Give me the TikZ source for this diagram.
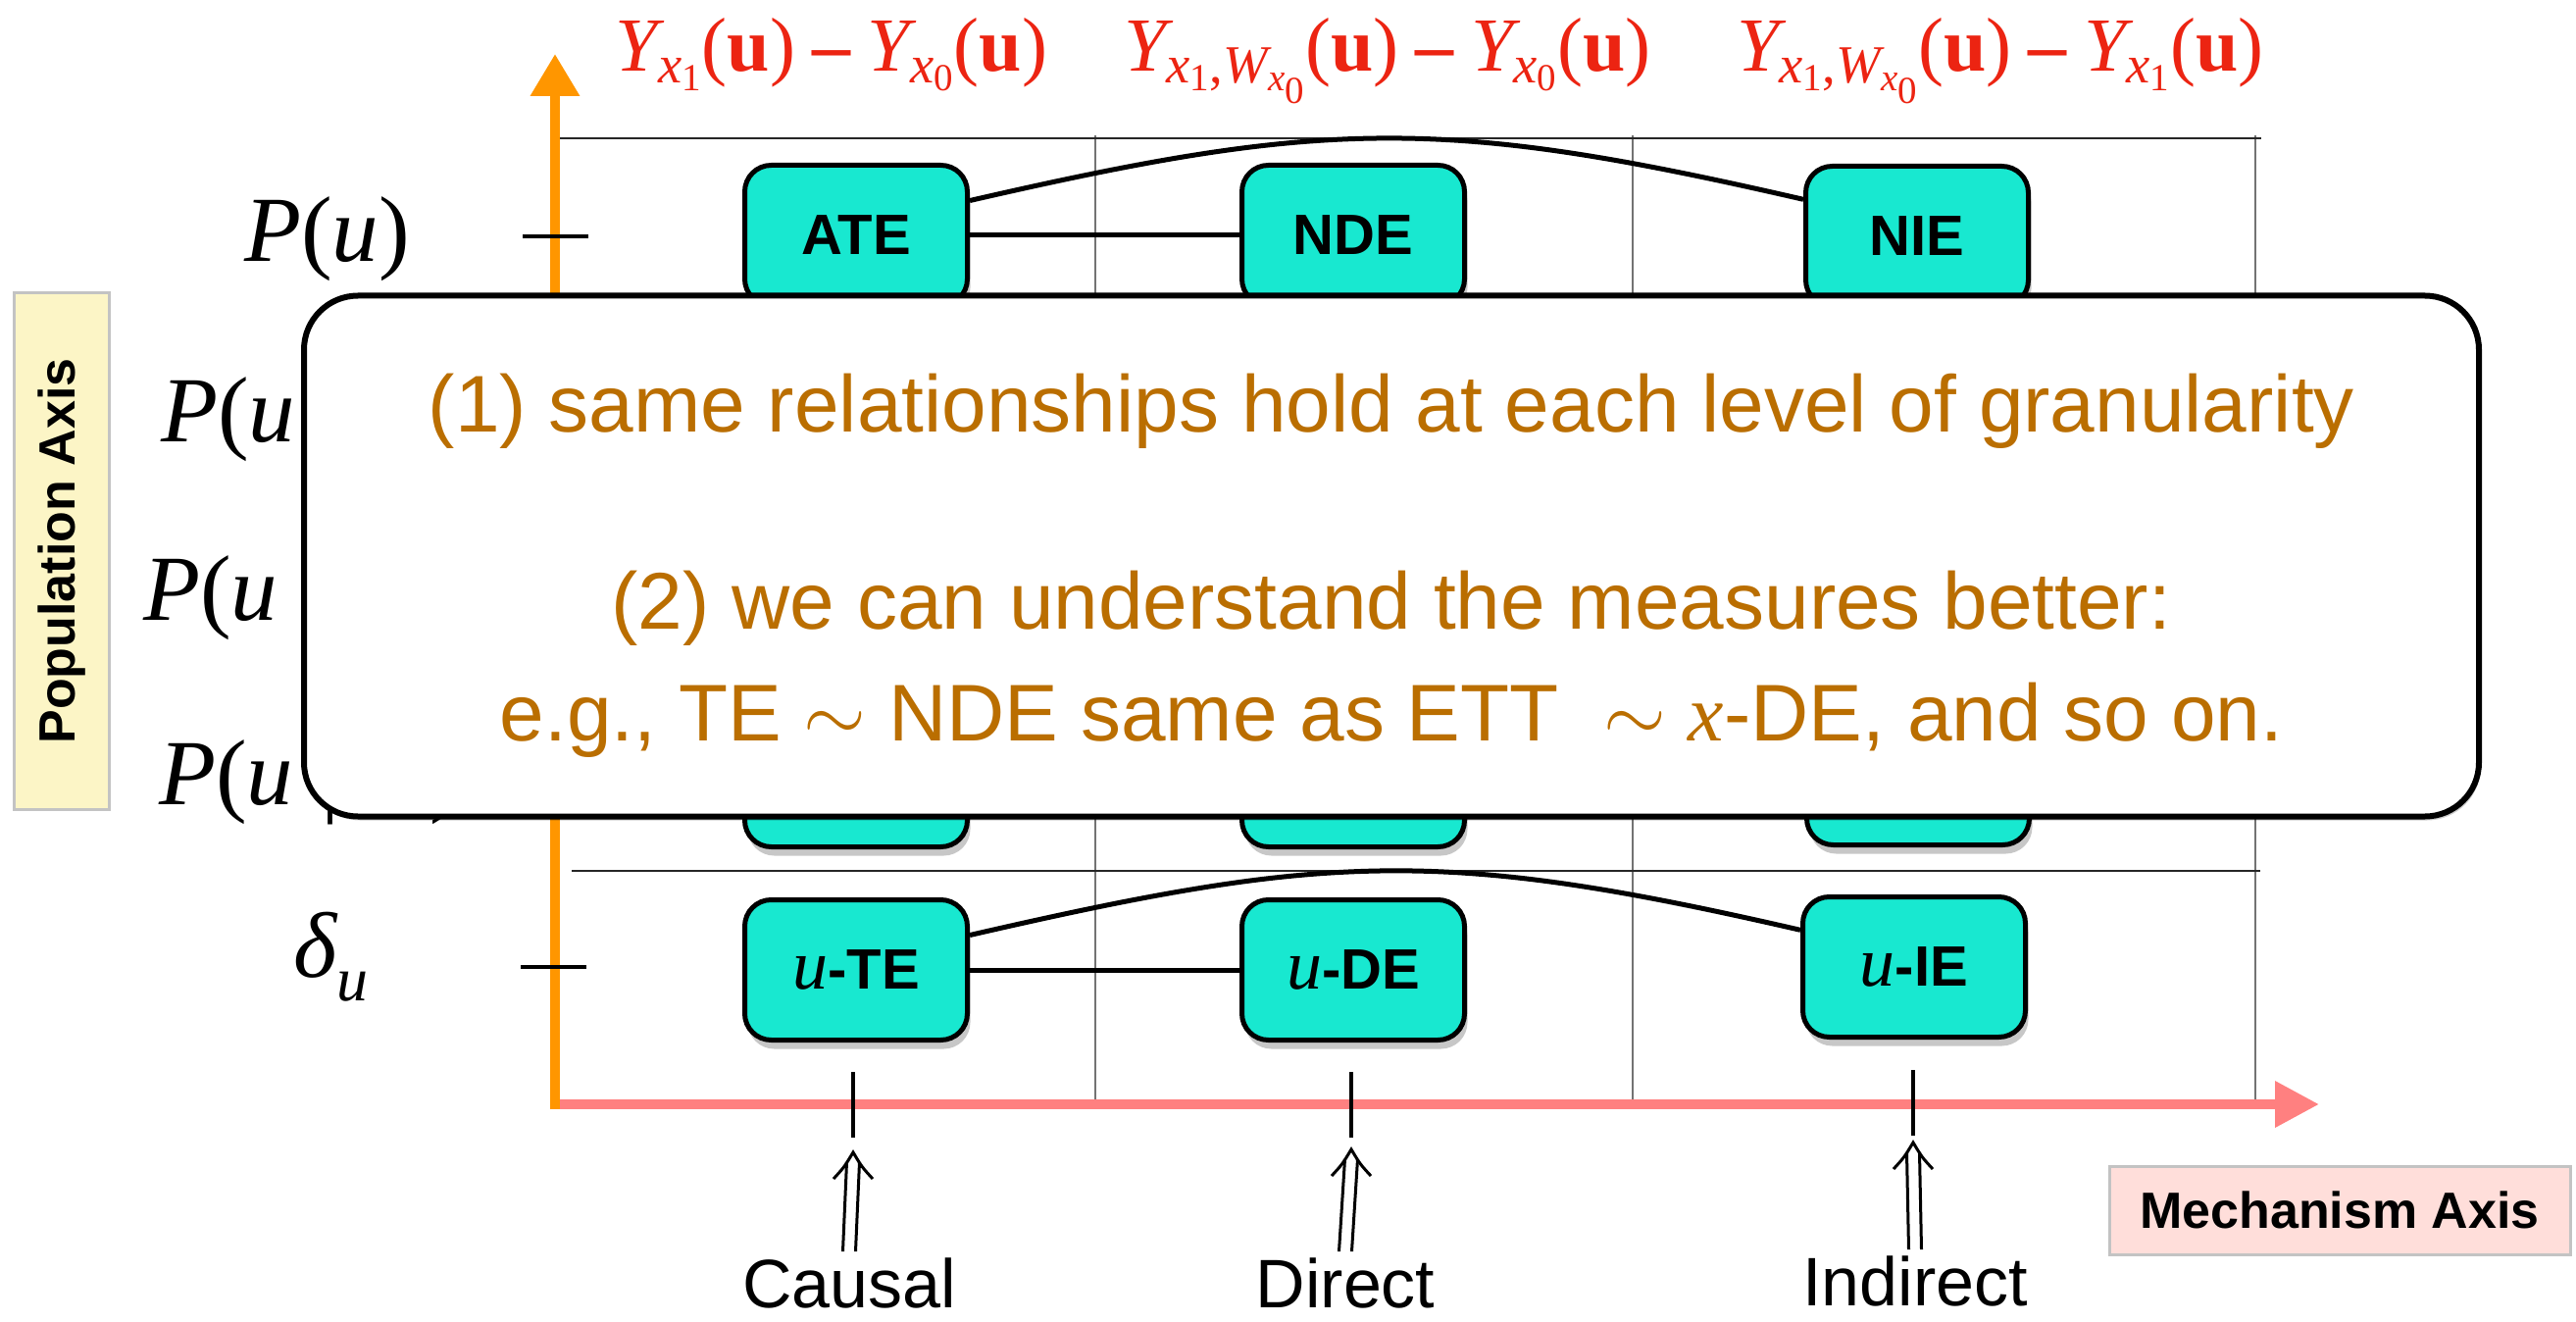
\RequirePackage{fix-cm}
\documentclass[tikz,border=0pt]{standalone}
\usepackage{amsmath}
\usepackage{fontspec}
\setmainfont{Liberation Sans}
\newfontfamily\tms{Liberation Serif}
\usetikzlibrary{arrows.meta,shadows,calc}

\definecolor{boxcyan}{RGB}{24,232,208}
\definecolor{axorange}{RGB}{255,150,0}
\definecolor{axpink}{RGB}{255,128,128}
\definecolor{fred}{RGB}{236,36,18}
\definecolor{notebrown}{RGB}{186,110,0}
\definecolor{popfill}{RGB}{252,245,198}
\definecolor{mechfill}{RGB}{255,222,218}
\definecolor{boxgray}{RGB}{195,195,195}

\newcommand\fsz[1]{\fontsize{#1}{#1}\selectfont}
\newcommand\tI[1]{\text{\tms\itshape #1}}
\newcommand\tR[1]{\text{\tms\upshape\mdseries #1}}
\newcommand\tBu{\text{\tms\bfseries u}}
\newcommand\mnus{\mathbin{\text{\tms\bfseries –}}}
\newcommand\cbar{\hspace{0.3em}|\hspace{0.3em}}
% double arrow from (#1) up to tip (#2)
\newcommand\dblarr[2]{%
  \draw[dblline] ($(#1)+(-6.5,0)$) -- ($(#2)+(-6.5,10)$);
  \draw[dblline] ($(#1)+(6.5,0)$) -- ($(#2)+(6.5,10)$);
  \draw[dblline, line join=miter] ($(#2)+(-20,27)$) .. controls ($(#2)+(-9,15)$) .. (#2)
     .. controls ($(#2)+(9,15)$) .. ($(#2)+(20,27)$);
}

\tikzset{
  gridv/.style={line width=1.3pt, black!55},
  gridh/.style={line width=2pt, black!85},
  mbox/.style={draw, line width=5pt, fill=boxcyan, rounded corners=27pt,
    minimum width=227pt, minimum height=143pt, inner sep=0pt,
    font=\fsz{58}\bfseries,
    drop shadow={shadow xshift=3pt, shadow yshift=-9pt, opacity=0.22, fill=black}},
  conn/.style={line width=5pt, black},
  ytick/.style={line width=4.5pt, black},
  xtick/.style={line width=4pt, black},
  rowlab/.style={inner sep=0pt, font=\tms\fsz{95}},
  formula/.style={inner sep=0pt, text=fred, font=\tms\fsz{78}},
  ntext/.style={inner sep=0pt, text=notebrown, font=\fsz{82}},
  blab/.style={inner sep=0pt, font=\fsz{70}},
  dblline/.style={line width=3pt, black},
  axisbox/.style={draw=boxgray, line width=3pt, font=\fsz{52}\bfseries, inner sep=0pt},
}

\begin{document}
\begin{tikzpicture}[x=1pt,y=-1pt]
\useasboundingbox (0,0) rectangle (2627,1348);

% grid
\draw[gridv] (1117,138) -- (1117,1121);
\draw[gridv] (1665,138) -- (1665,1121);
\draw[gridv] (2300,138) -- (2300,1127);
\draw[gridh] (561,141) -- (2306,141);
\draw[gridh, line width=1.5pt] (583,888) -- (2305,888);

% axes
\draw[axorange, line width=10pt, -{Triangle[length=43pt,width=48pt]}] (566,1131) -- (566,55);
\draw[axpink, line width=10pt, -{Triangle[length=45pt,width=45pt]}] (571,1126) -- (2365,1126);

% ticks on mechanism axis
\coordinate (tc) at (870,1160);
\coordinate (td) at (1378,1160);
\coordinate (ti) at (1951,1158);
\draw[xtick] (870,1093) -- (tc);
\draw[xtick] (1378,1093) -- (td);
\draw[xtick] (1951,1091) -- (ti);

% ticks on population axis
\draw[ytick] (533,241) -- (600,241);
\draw[ytick] (531,986) -- (598,986);

% boxes
\node[mbox] (ATE) at (873,240) {ATE};
\node[mbox] (NDE) at (1380,240) {NDE};
\node[mbox] (NIE) at (1955,241) {NIE};
\node[mbox] (r4a) at (873,792) {};
\node[mbox] (r4b) at (1380,792) {};
\node[mbox] (r4c) at (1956,790) {};
\node[mbox] (uTE) at (873,989) {{\tms\fsz{72}\mdseries\itshape u}-TE};
\node[mbox] (uDE) at (1380,989) {{\tms\fsz{72}\mdseries\itshape u}-DE};
\node[mbox] (uIE) at (1952,986) {{\tms\fsz{72}\mdseries\itshape u}-IE};

% connectors
\draw[conn] (ATE) -- (NDE);
\draw[conn] (ATE.17) .. controls ($(ATE.17)+(365,-84)$) and ($(NIE.162)+(-365,-84)$) .. (NIE.162);
\draw[conn] (uTE) -- (uDE);
\draw[conn] (uTE.17) .. controls ($(uTE.17)+(365,-84)$) and ($(uIE.162)+(-365,-84)$) .. (uIE.162);

% row labels
\node[rowlab, anchor=base west] (p1) at (249,267) {\itshape P\upshape(\itshape u\upshape)};
\node[rowlab, anchor=base west] (p2) at (164,450) {\itshape P\upshape(\itshape u\upshape\cbar\itshape x\upshape)};
\node[rowlab, anchor=base west] (p3) at (146,632) {\itshape P\upshape(\itshape u\upshape\cbar\itshape x\upshape, \itshape z\upshape)};
\node[rowlab, anchor=base west] (p4) at (162,820) {\itshape P\upshape(\itshape u\upshape\cbar\itshape v\upshape′)};
\node[rowlab, anchor=base west] (p5) at (299,996) {\itshape δ\raisebox{-24pt}{\fsz{64}u}};

% formulas
\node[formula, anchor=base] (f1) at (848,73)
  {$\tI{Y}_{\tI{x}_{\tR{1}}}\tR{(}\tBu\tR{)}\mnus\tI{Y}_{\tI{x}_{\tR{0}}}\tR{(}\tBu\tR{)}$};
\node[formula, anchor=base] (f2) at (1415,73)
  {$\tI{Y}_{\tI{x}_{\tR{1}}\tR{,}\tI{W}_{\tI{x}_{\tR{0}}}}\tR{(}\tBu\tR{)}\mnus\tI{Y}_{\tI{x}_{\tR{0}}}\tR{(}\tBu\tR{)}$};
\node[formula, anchor=base] (f3) at (2040,73)
  {$\tI{Y}_{\tI{x}_{\tR{1}}\tR{,}\tI{W}_{\tI{x}_{\tR{0}}}}\tR{(}\tBu\tR{)}\mnus\tI{Y}_{\tI{x}_{\tR{1}}}\tR{(}\tBu\tR{)}$};

% axis label boxes
\node[axisbox, fill=popfill, rotate=90, minimum width=527pt, minimum height=97pt] (pop) at (63,562) {Population Axis};
\node[axisbox, fill=mechfill, minimum width=470pt, minimum height=90pt] (mech) at (2386,1234) {Mechanism Axis};

% bottom labels and arrows
\node[blab, anchor=base] (causal) at (866,1333) {Causal};
\node[blab, anchor=base] (direct) at (1372,1333) {Direct};
\node[blab, anchor=base] (indirect) at (1953,1331) {Indirect};
\coordinate (tipc) at ($(tc)+(0,15)$);
\coordinate (tipd) at ($(td)+(0,12)$);
\coordinate (tipi) at ($(ti)+(0,7)$);
\coordinate (basec) at ($(causal.north)+(0,-6)$);
\coordinate (based) at ($(direct.north)+(0,-6)$);
\coordinate (basei) at ($(indirect.north)+(0,-6)$);
\dblarr{basec}{tipc}
\dblarr{based}{tipd}
\dblarr{basei}{tipi}

% overlay note
\node[draw, line width=6pt, fill=white, rounded corners=55pt,
  minimum width=2218pt, minimum height=531pt,
  drop shadow={shadow xshift=2pt, shadow yshift=-4pt, opacity=0.2, fill=black}] (note) at (1419,567) {};
\node[ntext, anchor=base] (l1) at (1419,440) {(1) same relationships hold at each level of granularity};
\node[ntext, anchor=base] (l2) at (1419,641) {(2) we can understand the measures better:};
\node[ntext, anchor=base] (l3) at (1419,755) {e.g., TE $\sim$ NDE same as ETT~ $\sim$ {\tms\itshape x}-DE, and so on.};
\end{tikzpicture}
\end{document}
